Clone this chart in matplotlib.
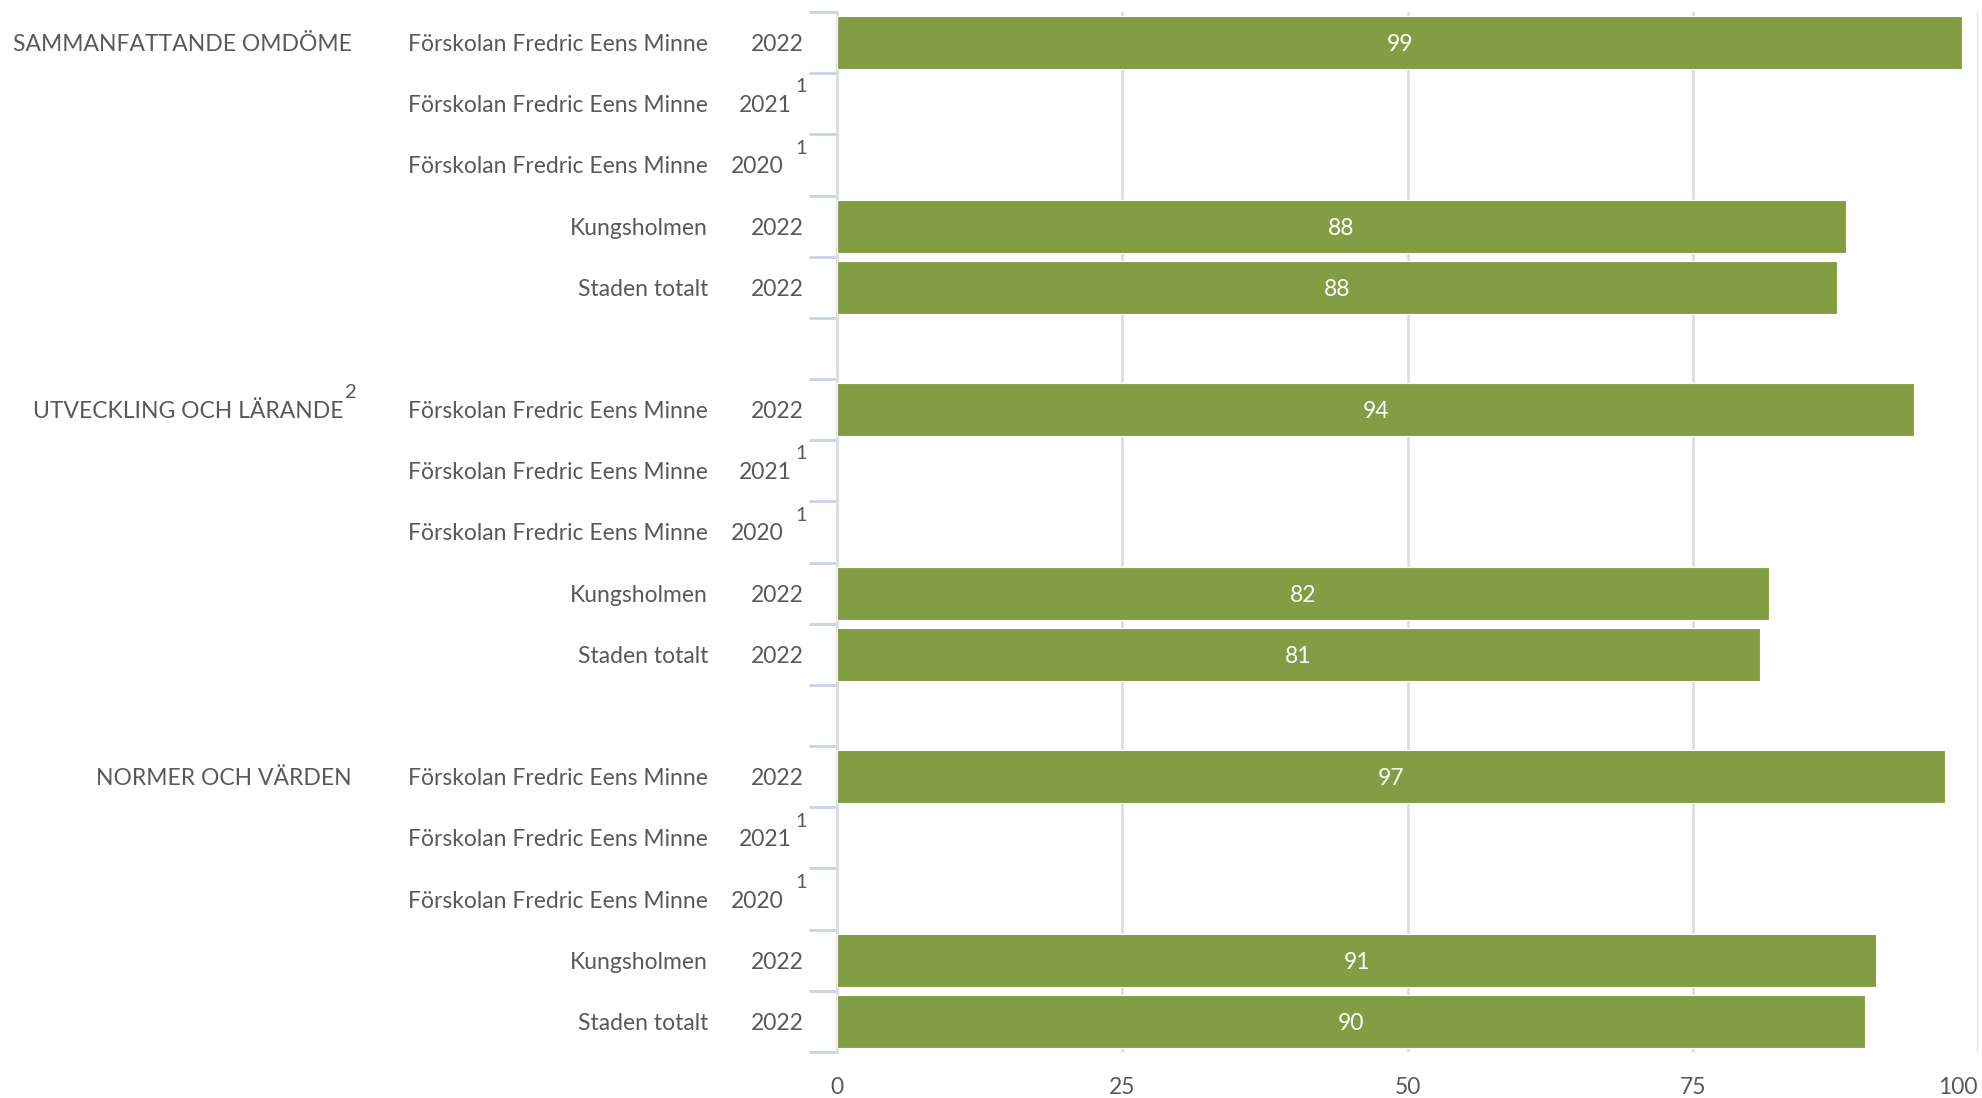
import matplotlib
matplotlib.use("Agg")
import matplotlib.pyplot as plt
from matplotlib.transforms import blended_transform_factory

# data
groups = ["SAMMANFATTANDE OMDÖME", "UTVECKLING OCH LÄRANDE", "NORMER OCH VÄRDEN"]
group_sup = ["", "2", ""]
units = ["Förskolan Fredric Eens Minne", "Förskolan Fredric Eens Minne",
         "Förskolan Fredric Eens Minne", "Kungsholmen", "Staden totalt"]
years = ["2022", "2021", "2020", "2022", "2022"]
year_sup = ["", "1", "1", "", ""]
values = [
    [98.6, None, None, 88.4, 87.6],
    [94.4, None, None, 81.7, 80.9],
    [97.1, None, None, 91.1, 90.1],
]
xticks = [0, 25, 50, 75, 100]

bar_color = "#829d44"
text_color = "#595959"
fs = 16.5
plt.rcParams['font.family'] = ['Lato', 'DejaVu Sans']

W, H = 1983, 1098
fig = plt.figure(figsize=(W / 100, H / 100), dpi=100)
ax = fig.add_axes([837 / W, 1 - 1052 / H, (1978 - 837) / W, (1052 - 12) / H])

tr = blended_transform_factory(fig.transFigure, ax.transData)
year_right = {"2021": 792, "2020": 784}
ticks_y = []
for g, grp in enumerate(groups):
    base = g * 6
    for i in range(len(units)):
        y = base + i
        v = values[g][i]
        if v is not None:
            ax.barh(y, v, height=0.87, color=bar_color, edgecolor="white",
                    linewidth=0.8, zorder=3)
            ax.text(v / 2, y, str(int(v + 0.5)), color="white", fontsize=fs,
                    ha="center", va="center_baseline", zorder=4)
        ax.text(708 / W, y, units[i], transform=tr, ha="right",
                va="center_baseline", fontsize=fs, color=text_color)
        if year_sup[i]:
            ax.text(year_right[years[i]] / W, y, years[i], transform=tr,
                    ha="right", va="center_baseline", fontsize=fs,
                    color=text_color)
            ax.text(795 / W, y - 0.3, year_sup[i], transform=tr, ha="left",
                    va="center_baseline", fontsize=14.5, color=text_color)
        else:
            ax.text(804 / W, y, years[i], transform=tr, ha="right",
                    va="center_baseline", fontsize=fs, color=text_color)
    for k in range(6):
        ticks_y.append(base - 0.5 + k)
    if group_sup[g]:
        ax.text(344 / W, base, grp, transform=tr, ha="right",
                va="center_baseline", fontsize=fs, color=text_color)
        ax.text(345 / W, base - 0.3, group_sup[g], transform=tr, ha="left",
                va="center_baseline", fontsize=14.5, color=text_color)
    else:
        ax.text(352 / W, base, grp, transform=tr, ha="right",
                va="center_baseline", fontsize=fs, color=text_color)

ax.set_xlim(0, 100)
ax.set_ylim(16.5, -0.5)
ax.set_xticks(xticks)
ax.set_xticklabels([str(t) for t in xticks])
ax.get_xticklabels()[-1].set_horizontalalignment("right")
ax.set_yticks(ticks_y)
ax.set_yticklabels([])
ax.tick_params(axis="y", length=20, width=2, color="#c9d3ea")
ax.tick_params(axis="x", length=0, pad=18, labelsize=fs, labelcolor=text_color)

ax.grid(axis="x", color="#dedede", linewidth=2, zorder=0)
ax.set_axisbelow(True)
for s in ["top", "right", "bottom"]:
    ax.spines[s].set_visible(False)
ax.spines["left"].set_color("#dcdcdc")
ax.spines["left"].set_linewidth(2)

fig.savefig("out.png", dpi=100)
